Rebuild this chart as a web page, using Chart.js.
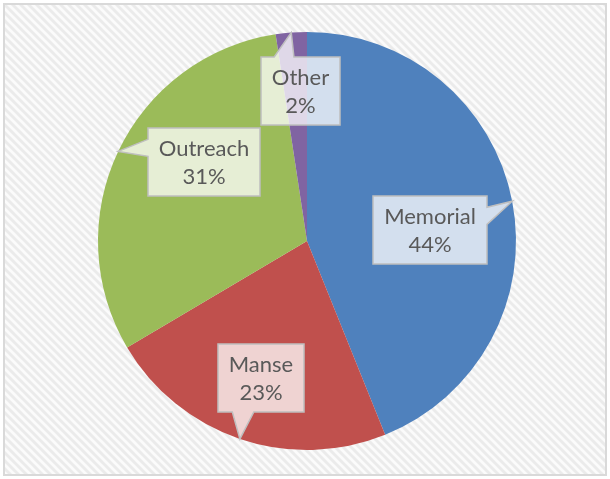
<!DOCTYPE html>
<html>
<head>
<meta charset="utf-8">
<script src="https://cdn.jsdelivr.net/npm/chart.js@4.4.1/dist/chart.umd.min.js"></script>
<style>
  html, body { margin: 0; padding: 0; background: #ffffff; }
  #wrap { width: 610px; height: 479px; position: relative; }
</style>
</head>
<body>
<div id="wrap"><canvas id="c" width="610" height="479"></canvas></div>
<script>
const categories = ["Memorial", "Manse", "Outreach", "Other"];
const values = [43.9, 22.6, 31.1, 2.4];
const percentLabels = ["44%", "23%", "31%", "2%"];
const colors = ["#4F81BD", "#C0504D", "#9BBB59", "#8064A2"];

// callout placement (styling): radial fraction of radius and angle shift (deg) from slice middle
const calloutRadius = [0.59, 0.69, 0.62, 0.72];
const calloutShift = [5.7, 0, 12, 2];

function makePattern(ctx) {
  const p = document.createElement('canvas');
  p.width = 8; p.height = 8;
  const g = p.getContext('2d');
  g.fillStyle = '#fbfbfb';
  g.fillRect(0, 0, 8, 8);
  g.strokeStyle = '#ebebeb';
  g.lineWidth = 3;
  for (let k = -2; k <= 2; k++) {
    g.beginPath();
    g.moveTo(k * 8 - 1, -1);
    g.lineTo(k * 8 + 9, 9);
    g.stroke();
  }
  return ctx.createPattern(p, 'repeat');
}

const backgroundPlugin = {
  id: 'bgFrame',
  beforeDraw(chart) {
    const ctx = chart.ctx;
    ctx.save();
    ctx.fillStyle = '#ffffff';
    ctx.fillRect(0, 0, chart.width, chart.height);
    ctx.fillStyle = makePattern(ctx);
    ctx.fillRect(5, 5, chart.width - 10, chart.height - 10);
    ctx.strokeStyle = '#d9d9d9';
    ctx.lineWidth = 2;
    ctx.strokeRect(4, 4, chart.width - 8, chart.height - 8);
    ctx.restore();
  }
};

function calloutPath(ctx, x, y, w, h, tx, ty) {
  // wedge rectangle callout (Office style)
  const cx = x + w / 2, cy = y + h / 2;
  const dx = tx - cx, dy = ty - cy;
  let side;
  if (Math.abs(dx) / w > Math.abs(dy) / h) side = dx > 0 ? 'right' : 'left';
  else side = dy > 0 ? 'bottom' : 'top';
  ctx.beginPath();
  ctx.moveTo(x, y);
  if (side === 'top') {
    const a = dx < 0 ? [2, 5] : [7, 10];
    ctx.lineTo(x + w * a[0] / 12, y); ctx.lineTo(tx, ty); ctx.lineTo(x + w * a[1] / 12, y);
  }
  ctx.lineTo(x + w, y);
  if (side === 'right') {
    const a = dy < 0 ? [2, 5] : [7, 10];
    ctx.lineTo(x + w, y + h * a[0] / 12); ctx.lineTo(tx, ty); ctx.lineTo(x + w, y + h * a[1] / 12);
  }
  ctx.lineTo(x + w, y + h);
  if (side === 'bottom') {
    const a = dx < 0 ? [5, 2] : [10, 7];
    ctx.lineTo(x + w * a[0] / 12, y + h); ctx.lineTo(tx, ty); ctx.lineTo(x + w * a[1] / 12, y + h);
  }
  ctx.lineTo(x, y + h);
  if (side === 'left') {
    const a = dy < 0 ? [5, 2] : [10, 7];
    ctx.lineTo(x, y + h * a[0] / 12); ctx.lineTo(tx, ty); ctx.lineTo(x, y + h * a[1] / 12);
  }
  ctx.closePath();
}

const calloutPlugin = {
  id: 'callouts',
  afterDatasetsDraw(chart) {
    const ctx = chart.ctx;
    const meta = chart.getDatasetMeta(0);
    ctx.save();
    ctx.font = '22px Lato, "Open Sans", sans-serif';
    const lineH = 28;
    meta.data.forEach((arc, i) => {
      const mid = (arc.startAngle + arc.endAngle) / 2;
      const R = arc.outerRadius;
      const tx = arc.x + Math.cos(mid) * R;
      const ty = arc.y + Math.sin(mid) * R;
      const ba = mid + calloutShift[i] * Math.PI / 180;
      const bx = arc.x + Math.cos(ba) * R * calloutRadius[i];
      const by = arc.y + Math.sin(ba) * R * calloutRadius[i];
      const l1 = chart.data.labels[i];
      const l2 = percentLabels[i];
      const tw = Math.max(ctx.measureText(l1).width, ctx.measureText(l2).width);
      const w = Math.round(tw + 22);
      const h = 68;
      const x = Math.round(bx - w / 2), y = Math.round(by - h / 2);
      calloutPath(ctx, x, y, w, h, tx, ty);
      ctx.fillStyle = 'rgba(255,255,255,0.75)';
      ctx.fill();
      ctx.strokeStyle = '#bfbfbf';
      ctx.lineWidth = 1.5;
      ctx.stroke();
      ctx.fillStyle = '#595959';
      ctx.textAlign = 'center';
      ctx.textBaseline = 'middle';
      ctx.fillText(l1, x + w / 2, y + h / 2 - lineH / 2 + 1);
      ctx.fillText(l2, x + w / 2, y + h / 2 + lineH / 2 + 1);
    });
    ctx.restore();
  }
};

new Chart(document.getElementById('c'), {
  type: 'pie',
  data: {
    labels: categories,
    datasets: [{
      data: values,
      backgroundColor: colors,
      borderWidth: 0
    }]
  },
  options: {
    responsive: false,
    animation: false,
    layout: { padding: { top: 32, bottom: 29, left: 98, right: 94 } },
    plugins: {
      legend: { display: false },
      tooltip: { enabled: false },
      title: { display: false }
    }
  },
  plugins: [backgroundPlugin, calloutPlugin]
});
</script>
</body>
</html>
